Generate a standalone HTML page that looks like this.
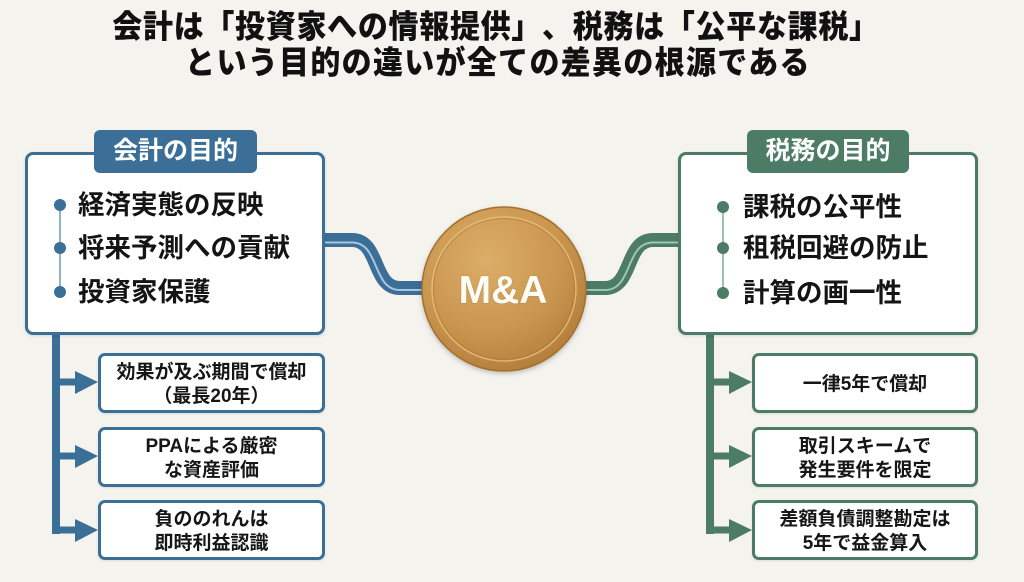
<!DOCTYPE html>
<html><head><meta charset="utf-8">
<style>
html,body{margin:0;padding:0;}
body{width:1024px;height:582px;background:#f5f3ee;position:relative;overflow:hidden;font-family:"Liberation Sans","Noto Sans CJK JP",sans-serif;text-spacing-trim:space-all;}
.t{position:absolute;left:0;font-weight:900;font-size:30px;color:#111;text-align:center;height:32px;line-height:32px;white-space:nowrap;text-spacing-trim:space-all;transform:scaleY(1.06);}
.box{position:absolute;background:#fff;border-radius:8px;box-sizing:border-box;box-shadow:0 1px 3px rgba(0,0,0,0.12);}
.blue{border:3px solid #3b6f98;}
.green{border:3px solid #4c7b66;}
.tab{position:absolute;border-radius:6px;color:#fff;font-weight:700;font-size:25px;text-align:center;line-height:43px;height:43px;}
.item{position:absolute;font-weight:700;font-size:26.5px;color:#141414;line-height:30px;height:30px;white-space:nowrap;}
.sub{position:absolute;box-sizing:border-box;background:#fff;border-radius:7px;display:flex;align-items:center;justify-content:center;text-align:center;font-weight:700;font-size:19px;line-height:24px;color:#161616;padding-top:3px;box-shadow:0 1px 2px rgba(0,0,0,0.1);}
svg{position:absolute;left:0;top:0;}
</style></head><body>
<div class="t" style="top:12px;width:992px;letter-spacing:0.7px;">会計は「投資家への情報提供」、税務は「公平な課税」</div>
<div class="t" style="top:48px;width:996px;letter-spacing:1.3px;">という目的の違いが全ての差異の根源である</div>

<svg width="1024" height="582" viewBox="0 0 1024 582">
<defs>
<radialGradient id="g1" cx="40%" cy="32%" r="75%">
<stop offset="0" stop-color="#dcae68"/>
<stop offset="0.6" stop-color="#c9954f"/>
<stop offset="1" stop-color="#b07a37"/>
</radialGradient>
<filter id="sh" x="-20%" y="-20%" width="140%" height="140%"><feDropShadow dx="0" dy="2" stdDeviation="2.5" flood-color="#000" flood-opacity="0.22"/></filter>
</defs>
<!-- left pipe -->
<path d="M322,240 H352 C380,240 372,288 400,288 H432" fill="none" stroke="#3b6f98" stroke-width="14"/>
<path d="M322,242.5 H352 C380,242.5 372,290 400,290 H432" fill="none" stroke="#a9c6de" stroke-width="2"/>
<!-- right pipe -->
<path d="M576,288 H605 C633,288 625,240 653,240 H680" fill="none" stroke="#4c7b66" stroke-width="14"/>
<path d="M576,290 H605 C633,290 625,242.5 653,242.5 H680" fill="none" stroke="#9fc6b3" stroke-width="2"/>
<!-- left trunk -->
<path d="M56,333 V534" stroke="#3b6f98" stroke-width="8" fill="none"/>
<path d="M52,382 H78 M52,456 H78 M52,530 H78" stroke="#3b6f98" stroke-width="7" fill="none"/>
<path d="M75,371 L98,382 L75,394 Z M75,445 L98,456 L75,468 Z M75,519 L98,530 L75,542 Z" fill="#3b6f98"/>
<!-- right trunk -->
<path d="M710,333 V534" stroke="#4c7b66" stroke-width="8" fill="none"/>
<path d="M706,382 H732 M706,456 H732 M706,530 H732" stroke="#4c7b66" stroke-width="7" fill="none"/>
<path d="M729,371 L752,382 L729,394 Z M729,445 L752,456 L729,468 Z M729,519 L752,530 L729,542 Z" fill="#4c7b66"/>
<!-- coin -->
<circle cx="504" cy="289" r="82" fill="url(#g1)" stroke="#a46f2e" stroke-width="1.5" filter="url(#sh)"/>
<circle cx="504" cy="289" r="72" fill="none" stroke="#e6c27e" stroke-width="1.5" opacity="0.8"/>
<circle cx="504" cy="289" r="70.5" fill="none" stroke="#a8742f" stroke-width="1" opacity="0.5"/>
<text x="503" y="303" text-anchor="middle" font-family="Liberation Sans, sans-serif" font-weight="700" font-size="39" fill="#fffdf6" style="paint-order:stroke" stroke="rgba(120,80,30,0.25)" stroke-width="1">M&amp;A</text>
</svg>

<!-- left main box -->
<div class="box blue" style="left:25px;top:152px;width:300px;height:183px;"></div>
<div class="tab" style="left:94px;top:130px;width:163px;background:#3b6f98;">会計の目的</div>
<svg width="1024" height="582" viewBox="0 0 1024 582" style="pointer-events:none">
<line x1="60" y1="205" x2="60" y2="292" stroke="#93b3cb" stroke-width="2"/>
<circle cx="60" cy="205" r="6" fill="#3b6f98"/>
<circle cx="60" cy="248" r="6" fill="#3b6f98"/>
<circle cx="60" cy="292" r="6" fill="#3b6f98"/>
</svg>
<div class="item" style="left:78px;top:190px;">経済実態の反映</div>
<div class="item" style="left:78px;top:233px;">将来予測への貢献</div>
<div class="item" style="left:78px;top:277px;">投資家保護</div>

<!-- right main box -->
<div class="box green" style="left:678px;top:152px;width:300px;height:183px;"></div>
<div class="tab" style="left:747px;top:130px;width:162px;background:#4c7b66;">税務の目的</div>
<svg width="1024" height="582" viewBox="0 0 1024 582" style="pointer-events:none">
<line x1="723" y1="207" x2="723" y2="293" stroke="#9dbfae" stroke-width="2"/>
<circle cx="723" cy="207" r="6" fill="#4c7b66"/>
<circle cx="723" cy="248" r="6" fill="#4c7b66"/>
<circle cx="723" cy="293" r="6" fill="#4c7b66"/>
</svg>
<div class="item" style="left:743px;top:192px;">課税の公平性</div>
<div class="item" style="left:743px;top:233px;">租税回避の防止</div>
<div class="item" style="left:743px;top:278px;">計算の画一性</div>

<!-- left sub boxes -->
<div class="sub blue" style="left:98px;top:353px;width:227px;height:60px;">効果が及ぶ期間で償却<br>（最長20年）</div>
<div class="sub blue" style="left:98px;top:427px;width:227px;height:60px;">PPAによる厳密<br>な資産評価</div>
<div class="sub blue" style="left:98px;top:500px;width:227px;height:60px;">負ののれんは<br>即時利益認識</div>

<!-- right sub boxes -->
<div class="sub green" style="left:752px;top:353px;width:226px;height:60px;">一律5年で償却</div>
<div class="sub green" style="left:752px;top:427px;width:226px;height:60px;">取引スキームで<br>発生要件を限定</div>
<div class="sub green" style="left:752px;top:500px;width:226px;height:60px;">差額負債調整勘定は<br>5年で益金算入</div>
</body></html>
